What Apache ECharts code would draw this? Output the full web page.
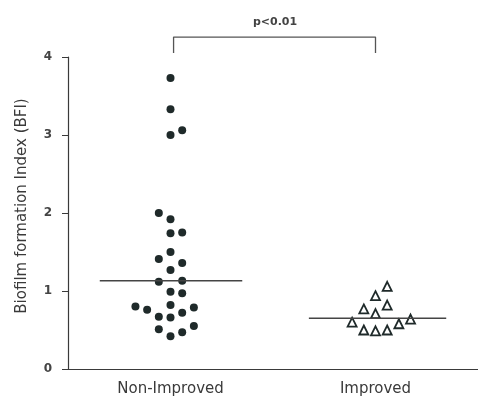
<!DOCTYPE html>
<html>
<head>
<meta charset="utf-8">
<script src="https://cdn.jsdelivr.net/npm/echarts@6/dist/echarts.min.js"></script>
<style>html,body{margin:0;padding:0;background:#fff}#c{width:478px;height:401px}</style>
</head>
<body>
<div id="c"></div>
<script>
var categories = ['Non-Improved', 'Improved'];
var yTicks = [0, 1, 2, 3, 4];
// BFI values
var nonImprovedValues = [3.73, 3.33, 3.00, 3.06, 2.00, 1.92, 1.74, 1.75, 1.50, 1.41, 1.36, 1.27, 1.12, 1.13, 0.99, 0.97, 0.80, 0.76, 0.82, 0.79, 0.67, 0.66, 0.72, 0.51, 0.42, 0.47, 0.55];
// column slot of each dot in the swarm (0 = category centre)
var nonImprovedSlots = [0, 0, 0, 1, -1, 0, 0, 1, 0, -1, 1, 0, -1, 1, 0, 1, -3, -2, 0, 2, -1, 0, 1, -1, 0, 1, 2];
var improvedValues = [1.06, 0.94, 0.82, 0.77, 0.71, 0.60, 0.64, 0.50, 0.49, 0.50, 0.58];
var improvedSlots = [1, 0, 1, -1, 0, -2, 3, -1, 0, 1, 2];
var medians = [1.13, 0.65];
var pLabel = 'p<0.01';
var yTitle = 'Biofilm formation Index (BFI)';

var slotW = 0.057;
function pts(vals, slots, c) {
  return vals.map(function (v, i) { return [c + slots[i] * slotW, v]; });
}
var centres = [0.5, 1.5];
var ink = '#1f2a2a';
var axisCol = '#3a3a3a';
var FONT = 'DejaVu Sans, Liberation Sans, sans-serif';

var chart = echarts.init(document.getElementById('c'));
chart.setOption({
  animation: false,
  backgroundColor: '#fff',
  grid: { left: 68, top: 57, width: 412, height: 312 },
  xAxis: [
    {
      type: 'category', data: categories, boundaryGap: true,
      axisLine: { lineStyle: { color: axisCol, width: 1.2 } },
      axisTick: { alignWithLabel: true, length: 5, lineStyle: { color: axisCol } },
      axisLabel: { margin: 13, fontSize: 15, color: '#3a3a3a', fontFamily: FONT },
      splitLine: { show: false }
    },
    { type: 'value', min: 0, max: 2, show: false }
  ],
  yAxis: {
    type: 'value', min: 0, max: 4, interval: 1,
    axisLine: { show: true, lineStyle: { color: axisCol, width: 1.2 } },
    axisTick: { show: true, length: 6, lineStyle: { color: axisCol } },
    axisLabel: { margin: 16, fontSize: 12, fontWeight: 'bold', color: '#444', fontFamily: FONT,
      formatter: function (v) { return yTicks.indexOf(v) >= 0 ? String(v) : ''; } },
    splitLine: { show: false }
  },
  graphic: [
    { type: 'text', x: 22, y: 206, rotation: Math.PI / 2,
      style: { text: yTitle, fontSize: 15, fill: '#3a3a3a', align: 'center', verticalAlign: 'middle', fontFamily: FONT } },
    { type: 'text', x: 275, y: 22,
      style: { text: pLabel, fontSize: 11, fontWeight: 'bold', fill: '#444', align: 'center', verticalAlign: 'middle', fontFamily: FONT } }
  ],
  series: [
    { type: 'line', xAxisIndex: 1, clip: false, symbol: 'none', silent: true,
      lineStyle: { color: '#555', width: 1.3 },
      data: [[centres[0] + 0.015, 4.05], [centres[0] + 0.015, 4.256], [centres[1], 4.256], [centres[1], 4.05]] },
    { type: 'line', xAxisIndex: 1, symbol: 'none', silent: true,
      lineStyle: { color: '#444', width: 1.5 },
      data: [[centres[0] - 0.345, medians[0]], [centres[0] + 0.35, medians[0]]] },
    { type: 'line', xAxisIndex: 1, symbol: 'none', silent: true,
      lineStyle: { color: '#444', width: 1.5 },
      data: [[centres[1] - 0.325, medians[1]], [centres[1] + 0.345, medians[1]]] },
    { type: 'scatter', xAxisIndex: 1, symbol: 'circle', symbolSize: 8,
      itemStyle: { color: ink, opacity: 1 },
      data: pts(nonImprovedValues, nonImprovedSlots, centres[0]) },
    { type: 'scatter', xAxisIndex: 1, symbol: 'triangle', symbolSize: 9,
      itemStyle: { color: '#fff', borderColor: ink, borderWidth: 1.8, opacity: 1 },
      data: pts(improvedValues, improvedSlots, centres[1]) }
  ]
});
</script>
</body>
</html>
